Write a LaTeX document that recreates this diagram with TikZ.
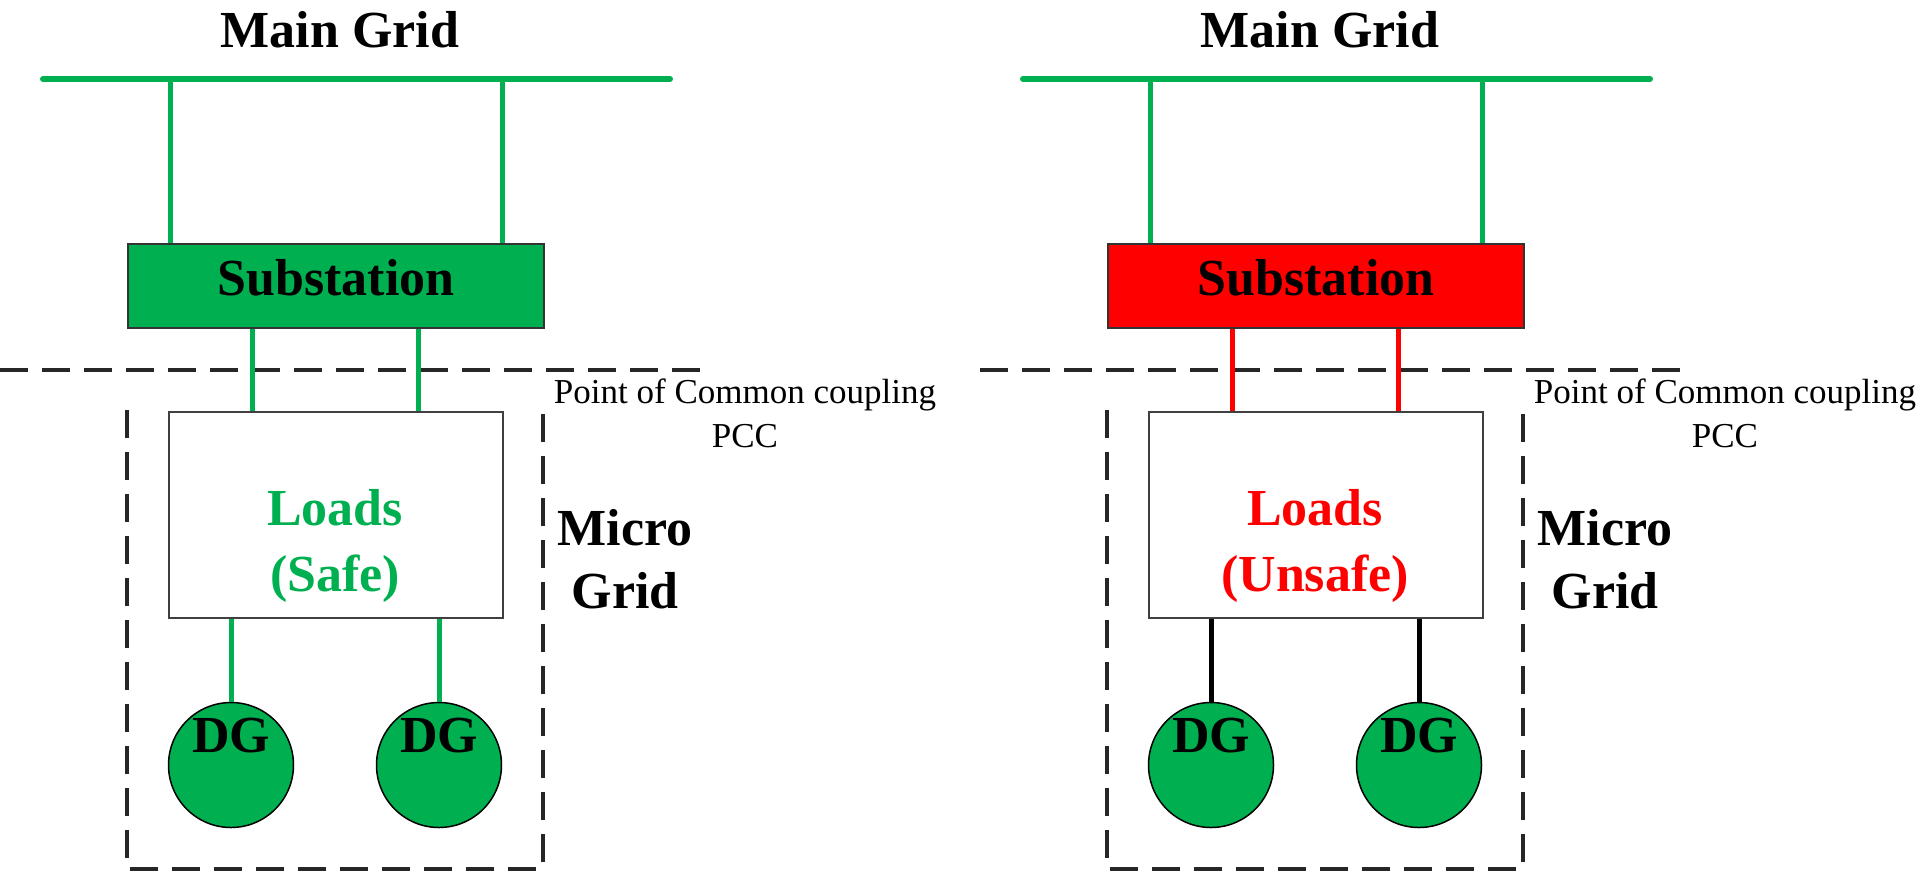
\documentclass[tikz,border=0pt]{standalone}
\usepackage{fontspec}
\setmainfont{Liberation Serif}
\definecolor{okgreen}{RGB}{0,176,80}
\definecolor{badred}{RGB}{255,0,0}
\tikzset{
  bigtext/.style={font=\fontsize{52}{62}\selectfont\bfseries, inner sep=0pt},
  lbl/.style={bigtext, anchor=base},
  pcctext/.style={font=\fontsize{35}{42}\selectfont, anchor=base, inner sep=0pt},
  busline/.style={draw=okgreen, line width=6pt, line cap=round},
  feeder/.style={line width=5pt},
  dashline/.style={draw=black!85, line width=4pt, dash pattern=on 28pt off 14pt},
  subbox/.style={bigtext, draw=black!80, line width=2pt, minimum width=416pt, minimum height=84pt, text height=36pt, text depth=18pt},
  loadbox/.style={draw=black!75, line width=2pt, minimum width=334pt, minimum height=206pt, inner sep=0pt},
  dgnode/.style={bigtext, circle, draw=black, line width=1.5pt, fill=okgreen, minimum size=125pt, text height=10pt, text depth=36pt}
}
% #1 prefix, #2 xshift, #3 substation fill, #4 lower feeder colour, #5 DG feeder colour, #6 loads text colour, #7 state
\newcommand\gridpanel[7]{%
\begin{scope}[xshift=#2pt]
  \node[lbl] (#1title) at (340,47) {Main Grid};
  \coordinate (#1busL) at (43,79);
  \coordinate (#1busR) at (670,79);
  \coordinate (#1tapA) at (170,79);
  \coordinate (#1tapB) at (502,79);
  \coordinate (#1fA) at (252,0);
  \coordinate (#1fB) at (418,0);
  \coordinate (#1pccL) at (0,370);
  \coordinate (#1pccR) at (708,370);
  \coordinate (#1mgA) at (127,410);
  \coordinate (#1mgB) at (127,869);
  \coordinate (#1mgC) at (543,869);
  \coordinate (#1mgD) at (543,410);
  \node[subbox, fill=#3] (#1sub) at (336,286) {Substation};
  \node[loadbox] (#1loads) at (335.5,515) {};
  \node[lbl, text=#6] (#1loadsA) at (335,525) {Loads};
  \node[lbl, text=#6] (#1loadsB) at (335,591) {(#7)};
  \node[dgnode] (#1dgA) at (231,765) {DG};
  \node[dgnode] (#1dgB) at (439,765) {DG};
  \node[lbl] (#1microA) at (625,545) {Micro};
  \node[lbl] (#1microB) at (625,608) {Grid};
  \node[pcctext] (#1pccA) at (745,403) {Point of Common coupling};
  \node[pcctext] (#1pccB) at (745,447) {PCC};
  \draw[busline] (#1busL) -- (#1busR);
  \draw[feeder, draw=okgreen] (#1tapA) -- (#1sub.north -| #1tapA);
  \draw[feeder, draw=okgreen] (#1tapB) -- (#1sub.north -| #1tapB);
  \draw[dashline] (#1pccL) -- (#1pccR);
  \draw[feeder, draw=#4] (#1sub.south -| #1fA) -- (#1loads.north -| #1fA);
  \draw[feeder, draw=#4] (#1sub.south -| #1fB) -- (#1loads.north -| #1fB);
  \draw[feeder, draw=#5] (#1loads.south -| #1dgA) -- (#1dgA.north);
  \draw[feeder, draw=#5] (#1loads.south -| #1dgB) -- (#1dgB.north);
  \draw[dashline] (#1mgA) -- (#1mgB) -- (#1mgC) -- (#1mgD);
\end{scope}}
\begin{document}
\begin{tikzpicture}[x=1pt, y=-1pt]
  \useasboundingbox (0,0) rectangle (1920,871);
  \gridpanel{l}{0}{okgreen}{okgreen}{okgreen}{okgreen}{Safe}
  \gridpanel{r}{980}{badred}{badred}{black}{badred}{Unsafe}
\end{tikzpicture}
\end{document}
